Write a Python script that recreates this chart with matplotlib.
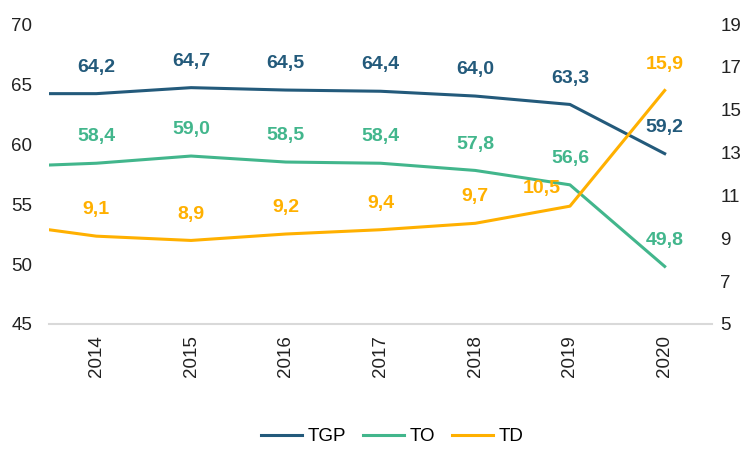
import matplotlib.pyplot as plt

plt.rcParams['font.family'] = ['Liberation Sans', 'DejaVu Sans']

# 2013 is only partly visible at the left edge, so it gets no label
years = ['2013', '2014', '2015', '2016', '2017', '2018', '2019', '2020']
tgp = [64.2, 64.2, 64.7, 64.5, 64.4, 64.0, 63.3, 59.2]
to = [58.1, 58.4, 59.0, 58.5, 58.4, 57.8, 56.6, 49.8]
td = [9.7, 9.1, 8.9, 9.2, 9.4, 9.7, 10.5, 15.9]

c_tgp = '#235A7B'
c_to = '#42B68C'
c_td = '#FFB000'

x = list(range(-1, len(years) - 1))

fig = plt.figure(figsize=(7.53, 4.49), dpi=100)
ax = fig.add_axes([0.065, 0.2784, 0.8806, 0.668])
ax2 = ax.twinx()

l1, = ax.plot(x, tgp, color=c_tgp, lw=2.2, label='TGP')
l2, = ax.plot(x, to, color=c_to, lw=2.2, label='TO')
l3, = ax2.plot(x, td, color=c_td, lw=2.2, label='TD')

ax.set_xlim(-0.5, 6.5)
ax.set_ylim(45, 70)
ax2.set_ylim(5, 19)
ax.set_yticks(range(45, 71, 5))
ax2.set_yticks(range(5, 20, 2))
ax.set_xticks(x[1:])
ax.set_xticklabels(years[1:], rotation=90)

def fmt(v):
    return f'{v:.1f}'.replace('.', ',')

for i in range(1, len(years)):
    ax.annotate(fmt(tgp[i]), (x[i], tgp[i]), xytext=(0, 19), textcoords='offset points',
                ha='center', va='center', color=c_tgp, fontsize=14, fontweight='bold')
    ax.annotate(fmt(to[i]), (x[i], to[i]), xytext=(0, 19), textcoords='offset points',
                ha='center', va='center', color=c_to, fontsize=14, fontweight='bold')
    # 2019 TD label sits left of its point, as in the source
    off = (-20, 12.5) if years[i] == '2019' else (0, 19)
    ax2.annotate(fmt(td[i]), (x[i], td[i]), xytext=off, textcoords='offset points',
                 ha='center', va='center', color=c_td, fontsize=14, fontweight='bold')

for a in (ax, ax2):
    for s in a.spines.values():
        s.set_visible(False)
    a.tick_params(length=0, labelsize=13.5, colors='#222222')
ax.spines['bottom'].set_visible(True)
ax.spines['bottom'].set_color('#D9D9D9')
ax.spines['bottom'].set_linewidth(1.5)
ax.tick_params(axis='x', pad=8)
ax.tick_params(axis='y', pad=12)
ax2.tick_params(axis='y', pad=6)

fig.legend(handles=[l1, l2, l3], loc='center', bbox_to_anchor=(0.521, 0.027),
           ncol=3, frameon=False, fontsize=13.5, handlelength=2.2, columnspacing=0.9,
           handletextpad=0.3)

fig.savefig('out.png', dpi=100)
